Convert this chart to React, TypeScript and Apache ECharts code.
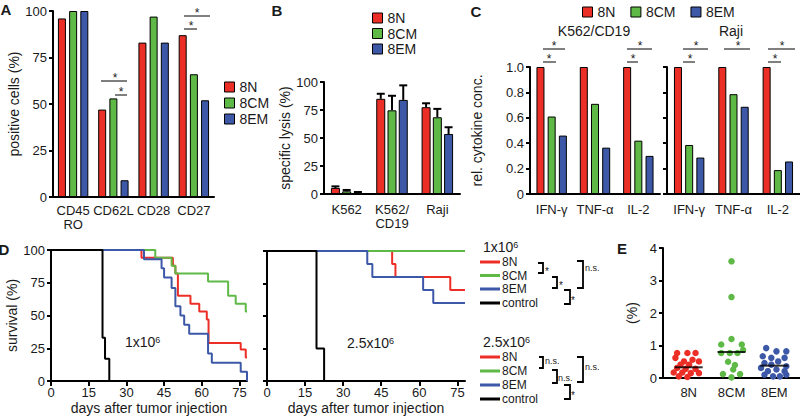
import React, { useEffect, useRef } from 'react';
import * as echarts from 'echarts';

const FONT = '"Liberation Sans", Arial, Helvetica, sans-serif';
const INK = '#1a1a1a';

const groups = ['8N', '8CM', '8EM'];
const groupColors = ['#EC2F26', '#5FB947', '#3D58A7'];

// Panel A: positive cells (%)
const markersA = ['CD45\nRO', 'CD62L', 'CD28', 'CD27'];
const positive8N = [96, 47, 83, 87];
const positive8CM = [100, 53, 97, 66];
const positive8EM = [100, 9, 83, 52];

// Panel B: specific lysis (%)
const targetsB = ['K562', 'K562/\nCD19', 'Raji'];
const lysis8N = [5.4, 85, 77.5];
const lysis8CM = [2.4, 74.7, 68.5];
const lysis8EM = [1.2, 84, 53.6];
const lysisErr8N = [1.4, 4.5, 3.5];
const lysisErr8CM = [1.2, 13, 7.5];
const lysisErr8EM = [0.6, 13, 6];

// Panel C: rel. cytokine conc.
const cytokines = ['IFN-γ', 'TNF-α', 'IL-2'];
const k562cd19_8N = [1, 1, 1];
const k562cd19_8CM = [0.61, 0.71, 0.42];
const k562cd19_8EM = [0.46, 0.365, 0.3];
const raji_8N = [1, 1, 1];
const raji_8CM = [0.386, 0.786, 0.188];
const raji_8EM = [0.287, 0.687, 0.256];

// Panel D: survival (%) [day, survival]
const dayTicks = [0, 15, 30, 45, 60, 75];
const km1_8N: number[][] = [[0, 100], [36, 94], [48.5, 88], [49.5, 82], [50.5, 65], [55.5, 59], [59, 53], [62, 47], [62.7, 29], [75.5, 24], [77.5, 18], [78, 18]];
const km1_8CM: number[][] = [[0, 100], [41.5, 94], [48, 88], [49.5, 82], [62.5, 76], [70.5, 65], [73.5, 59], [77.5, 53], [78, 53]];
const km1_8EM: number[][] = [[0, 100], [37, 93], [44, 86], [45, 79], [48, 71], [49.5, 57], [51.5, 50], [53, 43], [55, 36], [62.5, 21], [64, 14], [75.5, 7], [78, 0]];
const km1_ctrl: number[][] = [[0, 100], [20.5, 33], [21.5, 17], [23.2, 0]];
const km2_8N: number[][] = [[0, 100], [49.3, 90], [50.6, 80], [72.2, 70], [78, 70]];
const km2_8CM: number[][] = [[0, 100], [78, 100]];
const km2_8EM: number[][] = [[0, 100], [39.5, 90], [41.5, 80], [61.5, 70], [65.5, 60], [78, 60]];
const km2_ctrl: number[][] = [[0, 100], [19.5, 25], [22.5, 0]];

// Panel E: (%) per mouse, with horizontal jitter (category units)
const eVal8N = [0.77, 0.77, 0.77, 0.62, 0.56, 0.51, 0.51, 0.41, 0.41, 0.31, 0.28, 0.28, 0.17, 0.17, 0.15, 0.15, 0.05, 0.03];
const eJit8N = [-0.27, -0.03, 0.16, -0.31, 0.09, -0.11, 0.24, -0.19, 0.01, -0.27, -0.07, 0.16, -0.35, -0.15, 0.05, 0.24, -0.23, -0.03];
const eVal8CM = [3.59, 2.49, 1.2, 1.03, 1.03, 0.86, 0.77, 0.77, 0.77, 0.5, 0.4, 0.26, 0.12, 0.12, 0.02];
const eJit8CM = [0, 0, 0, -0.24, 0.24, 0.27, -0.24, -0.04, 0.14, -0.08, 0.08, 0.04, -0.2, 0.2, 0];
const eVal8EM = [0.92, 0.82, 0.82, 0.67, 0.62, 0.62, 0.51, 0.46, 0.41, 0.36, 0.31, 0.26, 0.21, 0.21, 0.1, 0.1, 0.05, 0.05];
const eJit8EM = [-0.19, 0.05, 0.28, -0.27, -0.07, 0.24, 0.09, -0.23, -0.07, 0.28, -0.31, 0.05, -0.15, 0.24, -0.23, 0.28, -0.03, 0.13];
const eMedian = [0.33, 0.8, 0.38];

const axisLine = { show: true, onZero: false, lineStyle: { color: '#000', width: 2 } };
const axisTick = { show: true, length: 4, lineStyle: { color: '#000', width: 2 } };
const lab = (o: any = {}) => ({ color: INK, fontSize: 13, fontFamily: FONT, ...o });
const nameStyle = { color: INK, fontSize: 14, fontFamily: FONT };

function catX(grid: number, data: string[], margin: number) {
  return {
    type: 'category', gridIndex: grid, data,
    axisLine, axisTick: { show: false },
    axisLabel: lab({ margin, lineHeight: 14, interval: 0 }),
    splitLine: { show: false },
  };
}
function valY(grid: number, min: number, max: number, interval: number, o: any = {}) {
  return {
    type: 'value', gridIndex: grid, min, max, interval,
    axisLine, axisTick, splitLine: { show: false },
    axisLabel: lab({ margin: 6, ...(o.axisLabel || {}) }),
    name: o.name, nameLocation: 'middle', nameGap: o.nameGap, nameTextStyle: nameStyle,
  };
}
function dayX(grid: number) {
  return {
    type: 'value', gridIndex: grid, min: 0, max: 78,
    axisLine,
    axisTick: { ...axisTick, length: 5, customValues: dayTicks },
    axisLabel: lab({ margin: 5, customValues: dayTicks }),
    splitLine: { show: false },
    name: 'days after tumor injection', nameLocation: 'middle', nameGap: 20, nameTextStyle: nameStyle,
  };
}

function bars(grid: number, values: number[][], width: number, gap: string) {
  return values.map((d, g) => ({
    type: 'bar', name: groups[g], xAxisIndex: grid, yAxisIndex: grid, data: d,
    barWidth: width, barGap: gap,
    itemStyle: { color: groupColors[g], borderColor: '#000', borderWidth: 1 },
  }));
}

function errorBars(grid: number, values: number[][], errs: number[][], step: number) {
  return values.map((d, g) => ({
    type: 'custom', xAxisIndex: grid, yAxisIndex: grid, z: 4,
    data: d.map((v, i) => [i, v, errs[g][i]]),
    renderItem: (params: any, api: any) => {
      const base = api.coord([api.value(0), api.value(1)]);
      const top = api.coord([api.value(0), api.value(1) + api.value(2)]);
      const x = base[0] + (g - 1) * step;
      return {
        type: 'group',
        children: [
          { type: 'line', shape: { x1: x, y1: base[1], x2: x, y2: top[1] }, style: { stroke: '#000', lineWidth: 2 } },
          { type: 'line', shape: { x1: x - 4, y1: top[1], x2: x + 4, y2: top[1] }, style: { stroke: '#000', lineWidth: 2 } },
        ],
      };
    },
  }));
}

function km(grid: number, data: number[][], color: string) {
  return {
    type: 'line', xAxisIndex: grid, yAxisIndex: grid, data, step: 'end',
    symbol: 'none', showSymbol: false, lineStyle: { color, width: 2 }, itemStyle: { color }, z: 3,
  };
}

const gText = (x: number, y: number, text: string, o: any = {}, align = 'center') => ({
  type: 'text', x, y, silent: true,
  style: { text, fill: INK, fontSize: 14, fontFamily: FONT, align, textAlign: align, verticalAlign: 'middle', textVerticalAlign: 'middle', ...o },
});
const gLine = (x1: number, y1: number, x2: number, y2: number, stroke = '#000', w = 1) => ({
  type: 'line', silent: true, shape: { x1, y1, x2, y2 }, style: { stroke, lineWidth: w },
});
const sig = (x1: number, x2: number, y: number, sx: number) => [gLine(x1, y, x2, y), gText(sx, y - 3, '*', { fontSize: 12 })];
const bracket = (x0: number, x1: number, y0: number, y1: number) => ({
  type: 'polyline', silent: true,
  shape: { points: [[x0, y0], [x1, y0], [x1, y1], [x0, y1]] },
  style: { stroke: '#000', lineWidth: 1.8, fill: 'none' },
});
const sup = { s: { fontSize: 9, verticalAlign: 'top', fontFamily: FONT, fill: INK } };

function legendD(titleY: number, ys: number[], title: string) {
  const names = ['8N', '8CM', '8EM', 'control'];
  const cols = [...groupColors, '#000'];
  const out: any[] = [gText(483, titleY, title, { rich: sup }, 'left')];
  names.forEach((n, i) => {
    out.push(gLine(480, ys[i], 500, ys[i], cols[i], 3));
    out.push(gText(502, ys[i], n, { fontSize: 12, lineHeight: 12 }, 'left'));
  });
  return out;
}

function buildOption() {
  const legendBase = {
    data: groups, icon: 'rect', itemWidth: 10, itemHeight: 10, padding: 0, selectedMode: false,
    textStyle: { fontSize: 14, fontFamily: FONT, color: INK, lineHeight: 14 },
    itemStyle: { borderColor: '#000', borderWidth: 1 },
  };
  const eSets = [[eVal8N, eJit8N], [eVal8CM, eJit8CM], [eVal8EM, eJit8EM]];
  const graphic: any[] = [
    gText(6, 9, 'A', { fontWeight: 'bold', fontSize: 15 }),
    gText(277, 10, 'B', { fontWeight: 'bold', fontSize: 15 }),
    gText(476, 11, 'C', { fontWeight: 'bold', fontSize: 15 }),
    gText(4, 249, 'D', { fontWeight: 'bold', fontSize: 15 }),
    gText(622, 248, 'E', { fontWeight: 'bold', fontSize: 15 }),
    gText(594, 31, 'K562/CD19'),
    gText(731, 31, 'Raji'),
    gText(125, 342, '1x10{s|6}', { rich: sup }, 'left'),
    gText(347, 343, '2.5x10{s|6}', { rich: sup }, 'left'),
    ...sig(101, 127, 81, 115), ...sig(115, 127, 95, 121),
    ...sig(184, 210, 16, 197), ...sig(184, 197, 29, 191),
    ...sig(543, 565, 49, 554), ...sig(543, 556, 62, 549),
    ...sig(627, 652, 49, 640), ...sig(627, 638, 62, 633),
    ...sig(683, 708, 49, 696), ...sig(683, 695, 62, 690),
    ...sig(724, 750, 49, 738),
    ...sig(768, 795, 49, 782), ...sig(768, 781, 62, 775),
    ...legendD(247, [262, 275.5, 289, 303], '1x10{s|6}'),
    ...legendD(342, [357, 371, 385, 399], '2.5x10{s|6}'),
    bracket(538, 543, 263, 273), gText(547, 271, '*', { fontSize: 10 }),
    bracket(552, 557, 277, 288), gText(561, 285, '*', { fontSize: 10 }),
    bracket(564, 570, 290, 304), gText(573, 300, '*', { fontSize: 10 }),
    bracket(577, 583, 261, 288), gText(585, 268, 'n.s.', { fontSize: 9 }, 'left'),
    bracket(539, 543, 357, 368), gText(545, 361, 'n.s.', { fontSize: 9 }, 'left'),
    bracket(552, 557, 370, 383), gText(558, 377.5, 'n.s.', { fontSize: 9 }, 'left'),
    bracket(564, 570, 385, 399), gText(573, 395, '*', { fontSize: 10 }),
    bracket(577, 583, 357, 382), gText(585, 367, 'n.s.', { fontSize: 9 }, 'left'),
  ];

  return {
    animation: false,
    backgroundColor: '#fff',
    textStyle: { fontFamily: FONT },
    grid: [
      { left: 53, top: 11, width: 161, height: 186 },
      { left: 324, top: 82, width: 136, height: 112 },
      { left: 530, top: 67, width: 130, height: 127 },
      { left: 667, top: 67, width: 133, height: 127 },
      { left: 51, top: 250, width: 196, height: 131 },
      { left: 267, top: 251, width: 198, height: 130 },
      { left: 663, top: 248, width: 137, height: 130 },
    ],
    legend: [
      { ...legendBase, orient: 'vertical', left: 224, top: 80, itemGap: 2 },
      { ...legendBase, orient: 'vertical', left: 372, top: 11, itemGap: 1.5 },
      { ...legendBase, orient: 'horizontal', left: 582, top: 5, itemGap: 15 },
    ],
    xAxis: [
      catX(0, markersA, 6),
      catX(1, targetsB, 8),
      catX(2, cytokines, 8),
      catX(3, cytokines, 8),
      dayX(4),
      dayX(5),
      {
        type: 'value', gridIndex: 6, min: 0.4, max: 3.6,
        axisLine, axisTick: { show: false }, splitLine: { show: false },
        axisLabel: lab({ margin: 8, customValues: [1, 2, 3], formatter: (v: number) => groups[Math.round(v) - 1] || '' }),
      },
    ],
    yAxis: [
      valY(0, 0, 100, 25, { name: 'positive cells (%)', nameGap: 32 }),
      valY(1, 0, 100, 25, { name: 'specific lysis (%)', nameGap: 21 }),
      valY(2, 0, 1, 0.2, { name: 'rel. cytokine conc.', nameGap: 46, axisLabel: { formatter: (v: number) => (v === 0 ? '0' : v.toFixed(1)) } }),
      valY(3, 0, 1, 0.2, { axisLabel: { show: false } }),
      valY(4, 0, 100, 25, { name: 'survival (%)', nameGap: 32 }),
      valY(5, 0, 100, 25, { axisLabel: { show: false } }),
      valY(6, 0, 4, 1, { name: '(%)', nameGap: 24 }),
    ],
    series: [
      ...bars(0, [positive8N, positive8CM, positive8EM], 8, '40%'),
      ...bars(1, [lysis8N, lysis8CM, lysis8EM], 9, '25%'),
      ...errorBars(1, [lysis8N, lysis8CM, lysis8EM], [lysisErr8N, lysisErr8CM, lysisErr8EM], 11.25),
      ...bars(2, [k562cd19_8N, k562cd19_8CM, k562cd19_8EM], 8, '40%'),
      ...bars(3, [raji_8N, raji_8CM, raji_8EM], 8, '40%'),
      km(4, km1_8N, groupColors[0]), km(4, km1_8CM, groupColors[1]), km(4, km1_8EM, groupColors[2]), km(4, km1_ctrl, '#000'),
      km(5, km2_8N, groupColors[0]), km(5, km2_8CM, groupColors[1]), km(5, km2_8EM, groupColors[2]), km(5, km2_ctrl, '#000'),
      ...eSets.map(([vals, jit], g) => ({
        type: 'scatter', name: 'E ' + groups[g], xAxisIndex: 6, yAxisIndex: 6,
        data: vals.map((v, i) => [g + 1 + jit[i], v]),
        symbolSize: 6.5, itemStyle: { color: groupColors[g], opacity: 1 },
      })),
      {
        type: 'scatter', xAxisIndex: 6, yAxisIndex: 6, z: 5,
        data: eMedian.map((m, i) => [i + 1, m]),
        symbol: 'rect', symbolSize: [28, 2], itemStyle: { color: '#000' },
      },
    ],
    graphic,
  };
}

export default function App() {
  const ref = useRef<HTMLDivElement>(null);
  useEffect(() => {
    const chart = echarts.init(ref.current!, null, { renderer: 'svg' });
    chart.setOption(buildOption() as any);
    return () => chart.dispose();
  }, []);
  return <div ref={ref} style={{ position: 'fixed', left: 0, top: 0, width: 800, height: 417, background: '#fff' }} />;
}
